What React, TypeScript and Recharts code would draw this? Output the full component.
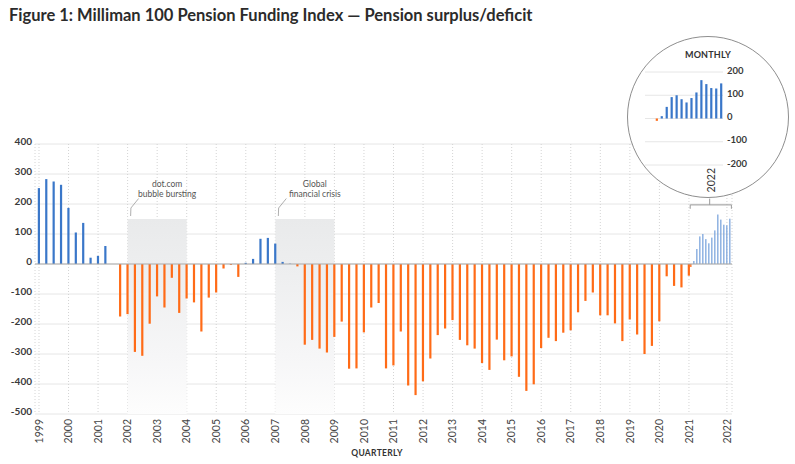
import React from "react";
import { BarChart, Bar, XAxis, YAxis, CartesianGrid, ReferenceArea, ReferenceLine } from "recharts";

const FONT = "Lato, 'Noto Sans', sans-serif";
const BLUE = "#3a77c9";
const LIGHT_BLUE = "#7ea7dd";
const ORANGE = "#ff6b17";

const title = "Figure 1: Milliman 100 Pension Funding Index — Pension surplus/deficit";
const xAxisTitle = "QUARTERLY";
const insetTitle = "MONTHLY";

const firstYear = 1999;
const yearTicks = [1999, 2000, 2001, 2002, 2003, 2004, 2005, 2006, 2007, 2008, 2009, 2010, 2011, 2012, 2013, 2014, 2015, 2016, 2017, 2018, 2019, 2020, 2021, 2022];

// Quarterly surplus/deficit ($B), 1999 Q1 .. 2021 Q1
const quarterlySurplus = [
  253, 283, 275, 264,
  187, 105, 137, 21,
  27, 60, 0, -175,
  -167, -293, -306, -199,
  -108, -145, -46, -163,
  -115, -128, -225, -112,
  -95, -15, -3, -43,
  4, 17, 84, 87,
  68, 7, 1, -8,
  -269, -253, -282, -295,
  -243, -192, -349, -348,
  -228, -145, -130, -348,
  -338, -225, -405, -437,
  -391, -315, -237, -215,
  -187, -253, -271, -282,
  -330, -353, -252, -321,
  -308, -376, -423, -401,
  -280, -246, -257, -229,
  -221, -161, -123, -95,
  -171, -171, -198, -257,
  -185, -235, -300, -273,
  -191, -41, -73, -78,
  -39,
];

const monthlyLabels = ["Jan 2021", "Feb 2021", "Mar 2021", "Apr 2021", "May 2021", "Jun 2021", "Jul 2021", "Aug 2021", "Sep 2021", "Oct 2021", "Nov 2021", "Dec 2021", "Jan 2022", "Feb 2022"];
const monthlySurplus = [-10, 10, 50, 92, 100, 83, 69, 88, 112, 165, 148, 131, 129, 151];

const yTicks = [-500, -400, -300, -200, -100, 0, 100, 200, 300, 400];
const insetYTicks = [-200, -100, 0, 100, 200];
const insetYearLabel = "2022";

const crisisLabels = [["dot.com", "bubble bursting"], ["Global", "financial crisis"]];
const crisisStartYears = [2002, 2007];
const crisisEndYears = [2004, 2009];
const crisisShadeTop = 150;

// layout (position of monthly bars on the quarterly axis)
const MONTH_POS0 = 88.27;
const MONTH_STEP = 0.406;
const monthPos = (j: number) => MONTH_POS0 + MONTH_STEP * j;
const yearPos = (yr: number) => {
  if (yr <= 2021) return (yr - firstYear) * 4;
  const j = monthlyLabels.indexOf("Jan " + yr);
  return monthPos(j);
};

const mainData = [
  ...quarterlySurplus.map((v, i) => ({
    pos: i,
    value: v,
    monthly: false,
    label: `${firstYear + Math.floor(i / 4)} Q${(i % 4) + 1}`,
  })),
  ...monthlySurplus.map((v, j) => ({ pos: monthPos(j), value: v, monthly: true, label: monthlyLabels[j] })),
];

const insetData = monthlySurplus.map((v, j) => ({ idx: j, value: v, label: monthlyLabels[j] }));
const insetTickIdx = monthlyLabels.indexOf("Dec 2021");

const BarShape = (p: any) => {
  const { x, y, width, height, payload } = p;
  if (x == null || y == null || isNaN(y)) return null;
  const top = height < 0 ? y + height : y;
  const h = Math.abs(height);
  const w = payload.monthly ? 1.3 : 2.2;
  const cx = x + width / 2;
  const fill = payload.value < 0 ? ORANGE : payload.monthly ? LIGHT_BLUE : BLUE;
  return <rect x={cx - w / 2} y={top} width={w} height={h} fill={fill} />;
};

const InsetBarShape = (p: any) => {
  const { x, y, width, height, payload } = p;
  if (x == null || y == null || isNaN(y)) return null;
  const top = height < 0 ? y + height : y;
  const h = Math.abs(height);
  const w = 2.2;
  const cx = x + width / 2;
  const fill = payload.value < 0 ? ORANGE : BLUE;
  return <rect x={cx - w / 2} y={top} width={w} height={h} fill={fill} />;
};

const XTick = (props: any) => {
  const { x, y, payload } = props;
  const yr = yearTicks.find((t) => Math.abs(yearPos(t) - payload.value) < 1e-6);
  return (
    <text
      x={x}
      y={y}
      transform={`rotate(-90 ${x} ${y})`}
      textAnchor="end"
      dy="0.35em"
      fontSize={10.5}
      fill="#444"
      fontFamily={FONT}
    >
      {yr}
    </text>
  );
};

const YTick = (props: any) => {
  const { x, y, payload } = props;
  return (
    <text x={x} y={y} dy={1} textAnchor="end" fontSize={10} fontWeight={700} fill="#3a3a3a" fontFamily={FONT}>
      {payload.value}
    </text>
  );
};

const InsetYTick = (props: any) => {
  const { x, y, payload } = props;
  return (
    <text x={x} y={y} dy={1.5} textAnchor="start" fontSize={9.5} fontWeight={700} fill="#3a3a3a" fontFamily={FONT}>
      {payload.value}
    </text>
  );
};

const InsetXTick = (props: any) => {
  const { x, y } = props;
  return (
    <text
      x={x}
      y={y}
      transform={`rotate(-90 ${x} ${y})`}
      textAnchor="end"
      dy="0.35em"
      fontSize={10.5}
      fill="#333"
      fontFamily={FONT}
    >
      {insetYearLabel}
    </text>
  );
};

const makeCrisisLabel = (lines: string[]) => (props: any) => {
  const vb = props.viewBox || {};
  const x = vb.x;
  const y = vb.y;
  if (x == null || y == null) return null;
  return (
    <g>
      <polyline
        points={`${x + 3},${y - 3} ${x + 3.3},${y - 11} ${x + 11},${y - 20.5}`}
        fill="none"
        stroke="#9a9a9a"
        strokeWidth={0.8}
      />
      <text x={x + 39.5} y={y - 32.5} textAnchor="middle" fontSize={8.5} fill="#555" fontFamily={FONT}>
        {lines[0]}
      </text>
      <text x={x + 39.5} y={y - 22.5} textAnchor="middle" fontSize={8.5} fill="#555" fontFamily={FONT}>
        {lines[1]}
      </text>
    </g>
  );
};

const bracketY = 197;
const bracketTick = 184;
const bracketStemTop = 218;

export default function App() {
  const mainXTicks = yearTicks.map(yearPos);
  const bracketL = monthPos(0) - 0.1;
  const bracketR = monthPos(monthlySurplus.length - 1) + 0.2;
  const bracketMid = (bracketL + bracketR) / 2 - 0.15;
  return (
    <div style={{ position: "absolute", left: 0, top: 0, width: 795, height: 464, background: "#fff", overflow: "hidden" }}>
      <svg width={0} height={0} style={{ position: "absolute" }}>
        <defs>
          <linearGradient id="crisisShade" x1="0" y1="0" x2="0" y2="1">
            <stop offset="0" stopColor="#e9eaeb" />
            <stop offset="0.3" stopColor="#eeeff0" />
            <stop offset="0.7" stopColor="#f6f6f7" />
            <stop offset="1" stopColor="#fdfdfd" />
          </linearGradient>
        </defs>
      </svg>
      <div style={{ position: "absolute", left: 0, top: 0 }}>
        <BarChart width={795} height={464} data={mainData} margin={{ top: 144, right: 63, bottom: 10, left: 0 }}>
          <CartesianGrid horizontal={true} vertical={false} stroke="#e6e6e6" />
          <CartesianGrid horizontal={false} vertical={true} stroke="#d4d4d4" strokeDasharray="1 2" />
          <XAxis
            type="number"
            dataKey="pos"
            domain={[-0.54, 93.83]}
            allowDataOverflow
            ticks={mainXTicks}
            interval={0}
            tick={<XTick />}
            tickLine={false}
            axisLine={false}
            tickSize={0}
            tickMargin={5}
            height={40}
          />
          <YAxis
            type="number"
            domain={[-500, 400]}
            ticks={yTicks}
            interval={0}
            width={35}
            tick={<YTick />}
            tickLine={false}
            axisLine={false}
            tickSize={0}
            tickMargin={3}
          />
          {crisisLabels.map((lines, k) => (
            <ReferenceArea
              key={k}
              x1={yearPos(crisisStartYears[k])}
              x2={yearPos(crisisEndYears[k])}
              y1={-500}
              y2={crisisShadeTop}
              fill="url(#crisisShade)"
              fillOpacity={1}
              stroke="none"
              label={makeCrisisLabel(lines)}
            />
          ))}
          <ReferenceLine y={0} stroke="#a9a9a9" strokeWidth={1} />
          <ReferenceLine segment={[{ x: bracketL, y: bracketY }, { x: bracketR, y: bracketY }]} stroke="#9a9a9a" />
          <ReferenceLine segment={[{ x: bracketL, y: bracketY }, { x: bracketL, y: bracketTick }]} stroke="#9a9a9a" />
          <ReferenceLine segment={[{ x: bracketR, y: bracketY }, { x: bracketR, y: bracketTick }]} stroke="#9a9a9a" />
          <ReferenceLine segment={[{ x: bracketMid, y: bracketY }, { x: bracketMid, y: bracketStemTop }]} stroke="#9a9a9a" />
          <Bar dataKey="value" barSize={2} shape={BarShape} isAnimationActive={false} />
        </BarChart>
      </div>

      <div
        style={{
          position: "absolute",
          left: 627,
          top: 36,
          width: 162,
          height: 162,
          borderRadius: "50%",
          border: "1px solid #8e8e8e",
          background: "#fff",
          overflow: "hidden",
          boxSizing: "border-box",
        }}
      >
        <div style={{ position: "absolute", left: -1, top: -1 }}>
          <BarChart width={162} height={163} data={insetData} margin={{ top: 36, right: 0, bottom: 0, left: 18 }}>
            <CartesianGrid horizontal={true} vertical={false} stroke="#e6e6e6" />
            <XAxis
              type="number"
              dataKey="idx"
              domain={[-2.485, 13.27]}
              allowDataOverflow
              ticks={[insetTickIdx]}
              interval={0}
              tick={<InsetXTick />}
              tickLine={false}
              axisLine={false}
              tickSize={0}
              tickMargin={3}
              height={34}
            />
            <YAxis
              orientation="right"
              type="number"
              domain={[-200, 200]}
              ticks={insetYTicks}
              interval={0}
              width={66}
              tick={<InsetYTick />}
              tickLine={false}
              axisLine={false}
              tickSize={0}
              tickMargin={4}
            />
            <Bar dataKey="value" barSize={2} shape={InsetBarShape} isAnimationActive={false} />
          </BarChart>
        </div>
      </div>

      <svg width={795} height={464} style={{ position: "absolute", left: 0, top: 0, pointerEvents: "none" }}>
        <text x={9} y={20.5} fontSize={16.5} fontWeight={700} fill="#2b2b2b" fontFamily={FONT}>
          {title}
        </text>
        <text x={377} y={455.5} textAnchor="middle" fontSize={8.5} fontWeight={700} letterSpacing={0.3} fill="#333" fontFamily={FONT}>
          {xAxisTitle}
        </text>
        <text x={708} y={57.5} textAnchor="middle" fontSize={9} fontWeight={700} letterSpacing={0.2} fill="#333" fontFamily={FONT}>
          {insetTitle}
        </text>
      </svg>
    </div>
  );
}
